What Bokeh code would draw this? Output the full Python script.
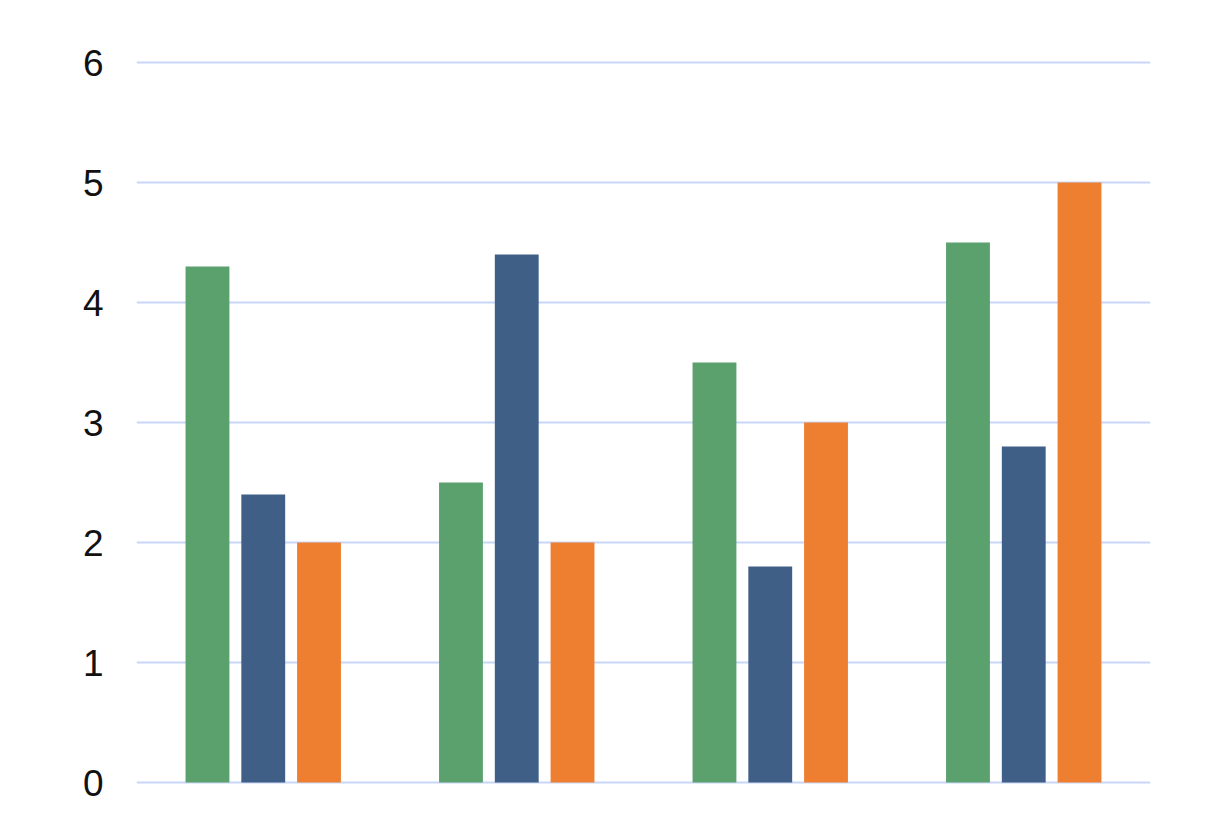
from bokeh.plotting import figure
from bokeh.models import Range1d, FixedTicker, Spacer
from bokeh.layouts import row
from bokeh.embed import file_html
from bokeh.resources import INLINE

groups = [1, 2, 3, 4]
green_vals = [4.3, 2.5, 3.5, 4.5]
blue_vals = [2.4, 4.4, 1.8, 2.8]
orange_vals = [2.0, 2.0, 3.0, 5.0]
y_ticks = [0, 1, 2, 3, 4, 5, 6]

series = [
    (green_vals, -0.22, "#5AA16E"),
    (blue_vals, 0.0, "#3F5F87"),
    (orange_vals, 0.22, "#EE7F30"),
]

p = figure(width=1154, height=828, output_backend="svg", toolbar_location=None,
           x_range=Range1d(0.5, 4.5), y_range=Range1d(-0.05, 6.05),
           min_border_left=113, min_border_right=27,
           min_border_top=56, min_border_bottom=40)

for vals, off, col in series:
    p.vbar(x=[g + off for g in groups], top=vals, bottom=0, width=0.173,
           fill_color=col, line_color=None)

p.xaxis.visible = False
p.yaxis.ticker = FixedTicker(ticks=y_ticks)
p.yaxis.axis_line_color = None
p.yaxis.major_tick_line_color = None
p.yaxis.minor_tick_line_color = None
p.yaxis.major_tick_out = 0
p.yaxis.major_tick_in = 0
p.yaxis.major_label_standoff = 33
p.yaxis.major_label_text_font = "Liberation Sans"
p.yaxis.major_label_text_font_size = "37px"
p.yaxis.major_label_text_color = "#111111"
p.xgrid.grid_line_color = None
p.ygrid.ticker = FixedTicker(ticks=y_ticks)
p.ygrid.grid_line_color = "#C8D6F8"
p.ygrid.grid_line_width = 2
p.outline_line_color = None
p.background_fill_color = "white"
p.border_fill_color = "white"

layout = row(Spacer(width=23, height=828), p)
html = file_html(layout, INLINE)
open("out.html", "w").write(html)
